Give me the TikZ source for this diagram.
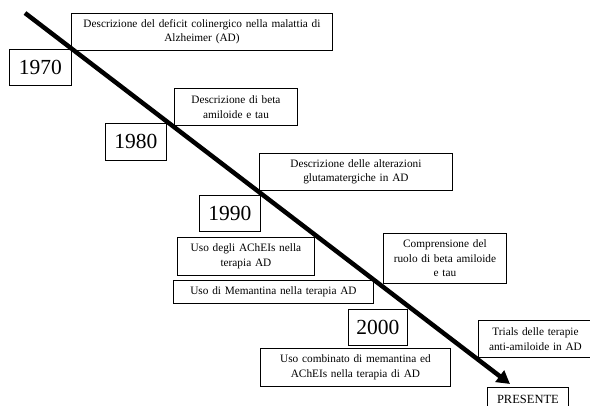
\documentclass[tikz,border=0pt]{standalone}
\usepackage{fontspec}
\setmainfont{Liberation Serif}
\usetikzlibrary{arrows.meta}
\tikzset{
  evento/.style 2 args={draw, fill=white, anchor=north west, align=center,
    text width=#1, minimum height=#2, inner xsep=0pt, inner ysep=1pt,
    line width=0.9pt, font=\fontsize{11.3}{14.5}\selectfont},
  anno/.style 2 args={evento={#1}{#2}, font=\fontsize{21.5}{24}\selectfont}
}
\begin{document}
\begin{tikzpicture}[x=1pt, y=-1pt]
    \useasboundingbox (0,0) rectangle (590,406);
    \node[evento={261pt}{37pt}] (e1970) at (71,13)
        {Descrizione del deficit colinergico nella malattia di\\Alzheimer (AD)};
    \node[anno={62pt}{36pt}] (a1970) at (9,49) {1970};
    \node[evento={123pt}{37pt}] (e1980) at (174,88)
        {Descrizione di beta\\amiloide e tau};
    \node[anno={61pt}{37pt}] (a1980) at (105,123) {1980};
    \node[evento={193pt}{37pt}] (e1990) at (259,153)
        {Descrizione delle alterazioni\\glutamatergiche in AD};
    \node[anno={61pt}{36pt}] (a1990) at (199,195) {1990};
    \node[evento={137pt}{38pt}] (acheis) at (177,237)
        {Uso degli AChEIs nella\\terapia AD};
    \node[evento={123pt}{50pt}] (amiloide) at (383,233)
        {Comprensione del\\ruolo di beta amiloide\\e tau};
    \node[evento={200pt}{23pt}] (memantina) at (173,280)
        {Uso di Memantina nella terapia AD};
    \node[anno={59pt}{36pt}] (a2000) at (348,309) {2000};
    \node[evento={190pt}{38pt}] (combinato) at (260,348)
        {Uso combinato di memantina ed\\AChEIs nella terapia di AD};
    \node[evento={114pt}{37pt}] (trials) at (478,320)
        {Trials delle terapie\\anti-amiloide in AD};
    \node[evento={81pt}{24pt}, font=\fontsize{12.5}{14}\selectfont] (presente) at (487,387)
        {PRESENTE};
    \coordinate (inizio) at (25,13);
    \coordinate (fine) at (510,384);
    \draw[line width=4.5pt, -{Triangle[length=13pt,width=14pt]}] (inizio) -- (fine);
\end{tikzpicture}
\end{document}
